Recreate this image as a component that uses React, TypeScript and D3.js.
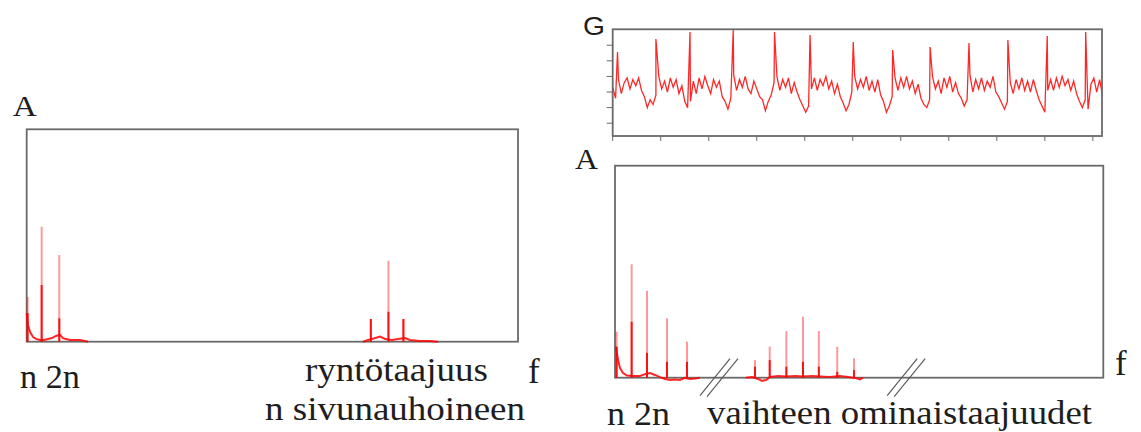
import React from "react";
import * as d3 from "d3";

// Left spectrum: mesh frequency with sidebands (f in units of n, amplitude 0..10)
const leftSpikeFreq = [0.2, 1.0, 2.0, 19.7, 20.7, 21.55];
const leftSpikePeak = [2.1, 5.41, 4.08, 1.07, 3.81, 1.07];
const leftSpikeCore = [1.35, 2.67, 1.1, 1.07, 1.41, 1.07];
const leftFloorLow = [
  [0.15, 1.35], [0.22, 0.79], [0.34, 0.46], [0.51, 0.22], [0.68, 0.13], [0.9, 0.08],
  [1.13, 0.08], [1.36, 0.13], [1.59, 0.17], [1.81, 0.27], [2.04, 0.32], [2.21, 0.17],
  [2.38, 0.13], [2.61, 0.08], [2.89, 0.08], [3.18, 0.08], [3.47, 0.03], [3.64, 0],
];
const leftFloorMesh = [
  [19.26, 0], [19.54, 0.08], [19.77, 0.13], [20.22, 0.24], [20.51, 0.13], [20.9, 0.08],
  [21.24, 0.13], [21.64, 0.17], [21.93, 0.08], [22.49, 0.03], [23.06, 0.03], [23.52, 0],
];

// Right spectrum: gear natural frequencies
const rightSpikeFreq = [0.1, 1.04, 2.0, 3.25, 4.5, 8.75, 9.67, 10.71, 11.75, 12.74, 13.89, 14.94];
const rightSpikePeak = [2.17, 5.35, 4.1, 2.8, 1.7, 0.83, 1.46, 2.2, 2.88, 2.2, 1.46, 0.92];
const rightSpikeCore = [1.46, 2.64, 1.17, 0.75, 0.75, 0.52, 0.83, 0.52, 0.75, 0.52, 0.28, 0.36];
const rightFloorLow = [
  [0.06, 1.46], [0.19, 0.83], [0.31, 0.46], [0.5, 0.22], [0.75, 0.1], [1.06, 0.08],
  [1.56, 0.08], [1.88, 0.17], [2.19, 0.22], [2.5, 0.13], [2.81, 0.03], [3.13, -0.06],
  [3.44, -0.11], [3.75, -0.08], [4.06, -0.11], [4.38, -0.01], [4.69, -0.06], [5.0, -0.04], [5.31, 0],
];
const rightFloorMesh = [
  [8.19, 0], [8.56, 0.03], [8.94, -0.06], [9.19, -0.15], [9.44, -0.11], [9.69, 0.03],
  [10.19, 0.08], [10.69, 0.06], [11.25, 0.08], [11.75, 0.06], [12.31, 0.08], [12.81, 0.06],
  [13.44, 0.03], [14.06, 0.08], [14.56, 0.03], [15.0, -0.01], [15.31, -0.08], [15.5, 0],
];
const rightBreaks = [6.5, 18.2];

// Time signal G
const signalStep = 0.06;
const signalNoise = [
  0.3, -0.4, 0.8, -0.1, 0.6, 0.9, 0.2, 0.8, 0.4, 0.9,
  0.1, -0.3, -1.0, -0.5, -0.8, -0.2, 1.0, 0.2, 0.7, 0.0,
  0.9, 0.3, 0.8, -0.1, 0.4, -0.6, -1.0, -0.6, 0.7, -0.1,
  0.9, 0.2, 1.0, 0.4, -0.1, 0.8, 0.3, 0.7, -0.3, -0.6,
  -1.1, -0.4, 1.1, 0.1, 0.8, 0.3, 1.0, 0.2, -0.1, 0.7,
  0.2, -0.3, -0.5, -1.2, -0.6, -0.2, 0.6, 1.0, 0.1, 0.8,
  0.3, 0.9, -0.1, 0.6, 0.0, -0.5, -0.9, -1.3, -0.9, 0.2,
  0.9, 0.1, 0.8, 0.4, 1.0, 0.2, 0.7, -0.1, 0.5, -0.3,
  -0.7, -1.2, -0.8, 0.0, 1.0, 0.2, 0.8, 0.3, 1.0, 0.1,
  0.7, 0.0, 0.8, -0.2, -0.6, -1.3, -0.9, -0.3, 0.9, 0.1,
  0.9, 0.3, 1.0, 0.2, 0.7, -0.1, 0.5, -0.4, -0.8, -1.0,
  -0.5, 1.0, 0.2, 0.7, -0.1, 0.9, 0.3, 1.0, 0.0, 0.6,
  -0.1, -0.4, -0.9, -0.5, 1.1, 0.0, 0.8, 0.2, 0.9, 0.1,
  0.7, 0.3, 1.0, 0.0, -0.3, -0.7, -1.1, -0.6, 0.6, -0.1,
  0.8, 0.2, 0.9, 0.1, 0.7, 0.0, 0.8, 0.1, -0.5, -0.9,
  -1.3, 0.1, 0.8, 0.1, 0.9, 0.3, 1.0, 0.4, 0.8, 0.1,
  0.7, -0.1, -0.6, -1.0, -0.5, -1.1, 0.5, 0.9, 0.0, 0.8, -0.2,
];
const signalSpikeT = [0.1, 0.9, 1.61, 2.51, 3.37, 4.11, 5.01, 5.83, 6.61, 7.42, 8.23, 9.05, 9.85];
const signalSpikeV = [2.56, 3.4, 3.85, 3.97, 3.85, 3.65, 3.21, 2.69, 2.88, 3.14, 3.33, 3.59, 3.85];
const signalTimeTicks = [0, 1, 2, 3, 4, 5, 6, 7, 8, 9, 10];
const signalValueTicks = [-2, -1, 0, 1, 2, 3];

const RED = "#ff0000";
const BOX = "#6a6a6a";
const INK = "#1e1e1e";
const SERIF =
  "'Liberation Serif', 'DejaVu Serif', 'Noto Serif', 'Nimbus Roman', 'FreeSerif', 'Times New Roman', Times, serif";
const SANS = "'Liberation Sans', Arial, sans-serif";

function Spectrum({ box, fDomain, freqs, peaks, cores, floors, breaks = [] }) {
  const x = d3.scaleLinear().domain(fDomain).range([box.x0, box.x1]);
  const y = d3.scaleLinear().domain([0, 10]).range([box.y1, box.y0]);
  const floorLine = d3.line().x((d) => x(d[0])).y((d) => y(d[1]));
  return (
    <g>
      <rect x={box.x0} y={box.y0} width={box.x1 - box.x0} height={box.y1 - box.y0}
        fill="none" stroke={BOX} strokeWidth={1.8} />
      {floors.map((fl, i) => (
        <path key={"fl" + i} d={floorLine(fl)} fill="none" stroke={RED} strokeWidth={2} strokeOpacity={0.85} />
      ))}
      {freqs.map((f, i) => (
        <g key={"s" + i}>
          <line x1={x(f)} x2={x(f)} y1={y(0)} y2={y(peaks[i])} stroke={RED} strokeWidth={2} strokeOpacity={0.4} />
          <line x1={x(f)} x2={x(f)} y1={y(0)} y2={y(cores[i])} stroke={RED} strokeWidth={2} strokeOpacity={0.9} />
        </g>
      ))}
      {breaks.map((b, i) => (
        <g key={"b" + i} stroke="#555" strokeWidth={1.1}>
          <line x1={x(b) - 19} y1={y(0) + 18} x2={x(b) + 11} y2={y(0) - 19} />
          <line x1={x(b) - 12} y1={y(0) + 19} x2={x(b) + 19} y2={y(0) - 19} />
        </g>
      ))}
    </g>
  );
}

function Signal({ box }) {
  const x = d3.scaleLinear().domain([0, 10.19]).range([box.x0, box.x1]);
  const y = d3.scaleLinear().domain([-2.82, 4.02]).range([box.y1, box.y0]);
  const pts = signalNoise
    .map((v, i) => [i * signalStep, v])
    .concat(signalSpikeT.map((t, i) => [t, signalSpikeV[i]]))
    .sort((a, b) => a[0] - b[0]);
  const path = d3.line().x((d) => x(d[0])).y((d) => y(d[1]))(pts);
  return (
    <g>
      <defs>
        <clipPath id="sigclip">
          <rect x={box.x0} y={box.y0} width={box.x1 - box.x0} height={box.y1 - box.y0} />
        </clipPath>
      </defs>
      <path d={path} fill="none" stroke={RED} strokeWidth={1.3} strokeOpacity={0.85} clipPath="url(#sigclip)" />
      <rect x={box.x0} y={box.y0} width={box.x1 - box.x0} height={box.y1 - box.y0}
        fill="none" stroke={BOX} strokeWidth={1.8} />
      {signalValueTicks.map((v) => (
        <line key={"yt" + v} x1={box.x0 - 6} x2={box.x0} y1={y(v)} y2={y(v)} stroke={BOX} strokeWidth={1} />
      ))}
      {signalTimeTicks.map((t) => (
        <line key={"xt" + t} x1={x(t)} x2={x(t)} y1={box.y1} y2={box.y1 + 5} stroke={BOX} strokeWidth={1} />
      ))}
    </g>
  );
}

function Label({ x, y, text, len, size = 33, family = SERIF }) {
  return (
    <text x={x} y={y} fontSize={size} fill={INK} style={{ fontFamily: family }}
      textLength={len} lengthAdjust={len ? "spacingAndGlyphs" : undefined}>
      {text}
    </text>
  );
}

export default function App() {
  const leftBox = { x0: 26.7, x1: 518, y0: 129.3, y1: 341.7 };
  const gBox = { x0: 612.7, x1: 1102, y0: 29.3, y1: 136 };
  const rightBox = { x0: 615, x1: 1103.3, y0: 165.7, y1: 377.7 };
  return (
    <svg width={1141} height={432} style={{ position: "absolute", left: 0, top: 0, background: "#fff" }}>
      <rect width={1141} height={432} fill="#fff" />
      <Spectrum box={leftBox} fDomain={[0.15, 28.06]} freqs={leftSpikeFreq} peaks={leftSpikePeak}
        cores={leftSpikeCore} floors={[leftFloorLow, leftFloorMesh]} />
      <Signal box={gBox} />
      <Spectrum box={rightBox} fDomain={[0, 30.52]} freqs={rightSpikeFreq} peaks={rightSpikePeak}
        cores={rightSpikeCore} floors={[rightFloorLow, rightFloorMesh]} breaks={rightBreaks} />

      <Label x={12.7} y={116} text="A" size={30} len={24} />
      <Label x={20} y={388} text="n 2n" len={60} />
      <Label x={305} y={381} text="ryntötaajuus" len={183} />
      <Label x={528} y={383} text="f" size={35} />
      <Label x={265} y={420} text="n sivunauhoineen" len={260} />

      <Label x={583} y={35} text="G" size={26} len={22} family={SANS} />
      <Label x={575} y={169} text="A" size={30} len={23} />
      <Label x={607} y={425} text="n 2n" len={63} />
      <Label x={707} y={424} text="vaihteen ominaistaajuudet" len={385} />
      <Label x={1115} y={375} text="f" size={35} />
    </svg>
  );
}
